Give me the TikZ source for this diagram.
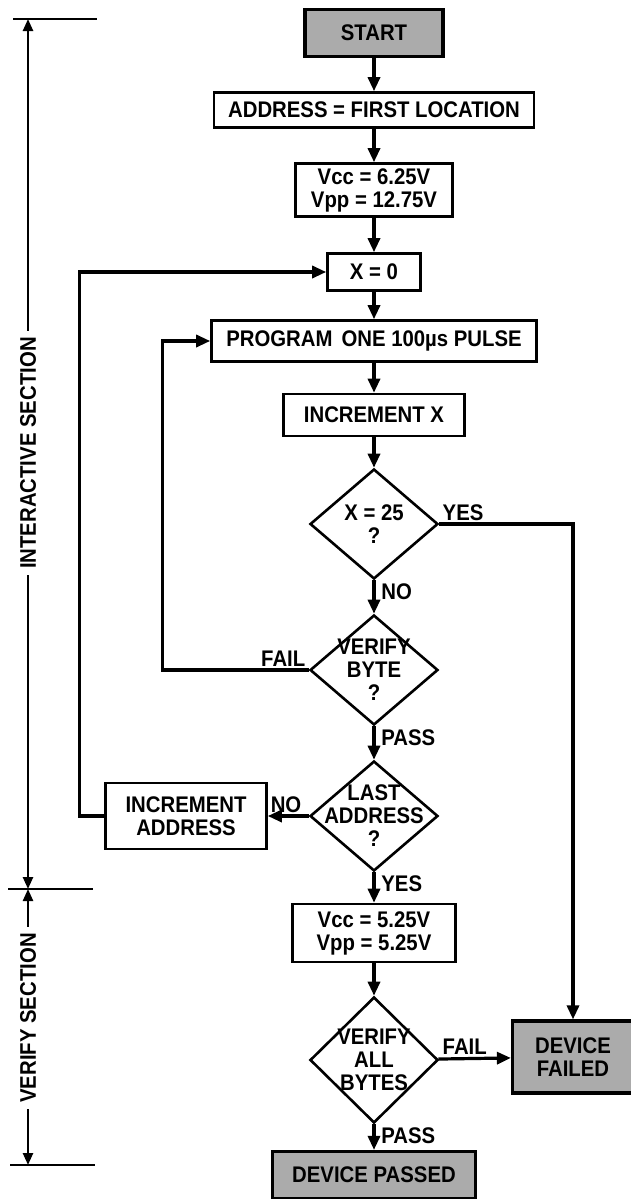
\documentclass[tikz,border=0pt]{standalone}
\usepackage{fontspec}
\setmainfont{Liberation Sans}[FakeStretch=0.9]
\usepackage{tikz}
\usetikzlibrary{
  shapes.geometric,
  positioning,
  arrows.meta
}
\definecolor{stipple}{HTML}{ABABAB}

\begin{document}
\begin{tikzpicture}[
    x=0.5pt, y=-0.5pt,
    font=\fontsize{11.3}{11.5}\selectfont\bfseries,
    box/.style={draw, line width=1.3pt, inner sep=0pt, align=center},
    term/.style={box, line width=1.6pt, fill=stipple},
    decision/.style={diamond, draw, line width=1.3pt, inner sep=0pt,
                     minimum width=64pt, minimum height=55pt},
    qtext/.style={align=center, inner sep=0pt},
    flow/.style={line width=1.6pt, -{Triangle[length=7pt,width=6pt]}},
    tag/.style={inner sep=1.5pt},
    span/.style={line width=1.2pt,
                 {Triangle[length=6pt,width=5pt]}-{Triangle[length=6pt,width=5pt]}},
  ]
  \useasboundingbox (0,0) rectangle (631,1199);

  \node[term, minimum width=69pt, minimum height=23.5pt]  (start)  at (374,33)   {START};
  \node[box, minimum width=160pt, minimum height=17.5pt]  (addr)   at (374,110)  {ADDRESS = FIRST LOCATION};
  \node[box, minimum width=78.5pt, minimum height=26.5pt] (vhigh)  at (374,190)  {Vcc = 6.25V\\Vpp = 12.75V};
  \node[box, minimum width=46.5pt, minimum height=18.5pt] (xzero)  at (374,272)  {X = 0};
  \node[box, minimum width=162.5pt, minimum height=20.5pt] (prog)  at (374,341)  {PROGRAM\hspace{0.4em}ONE 100µs PULSE};
  \node[box, minimum width=90.5pt, minimum height=21pt]   (incx)   at (374,415)  {INCREMENT X};
  \node[decision, label={[qtext]center:{X = 25\\?}}]       (xmax)   at (374,524)  {};
  \node[decision, label={[qtext]center:{VERIFY\\BYTE\\?}}] (vbyte)  at (374,670)  {};
  \node[decision, label={[qtext]center:{LAST\\ADDRESS\\?}}] (last)  at (374,816)  {};
  \node[box, minimum width=80.5pt, minimum height=33pt]   (incaddr) at (186,816) {INCREMENT\\ADDRESS};
  \node[box, minimum width=81.5pt, minimum height=29pt]   (vlow)   at (374,933)  {Vcc = 5.25V\\Vpp = 5.25V};
  \node[decision, minimum height=63pt,
        label={[qtext]center:{VERIFY\\ALL\\BYTES}}]        (vall)   at (374,1060) {};
  \node[term, minimum width=60.5pt, minimum height=36pt]  (failed) at (573,1057) {DEVICE\\FAILED};
  \node[term, minimum width=101.5pt, minimum height=23.5pt] (passed) at (374,1175) {DEVICE PASSED};

  \draw[flow] (start) -- (addr);
  \draw[flow] (addr) -- (vhigh);
  \draw[flow] (vhigh) -- (xzero);
  \draw[flow] (xzero) -- (prog);
  \draw[flow] (prog) -- (incx);
  \draw[flow] (incx) -- (xmax);
  \draw[flow] (xmax) -- (vbyte);
  \draw[flow] (vbyte) -- (last);
  \draw[flow] (last) -- (vlow);
  \draw[flow] (vlow) -- (vall);
  \draw[flow] (vall) -- (passed);
  \draw[flow] (vall) -- (failed);
  \draw[flow] (last) -- (incaddr);
  \draw[flow] (xmax.east) -| (failed.north);
  \draw[flow] (vbyte.west) -- ++(-146,0) |- (prog.west);
  \draw[flow] (incaddr.west) -- ++(-25,0) |- (xzero.west);

  \node[tag, anchor=south west] at (xmax.east) {YES};
  \node[tag, anchor=north west] at ([xshift=2pt]xmax.south) {NO};
  \node[tag, anchor=south east] at (vbyte.west) {FAIL};
  \node[tag, anchor=north west] at ([xshift=2pt]vbyte.south) {PASS};
  \node[tag, anchor=south east] at ([xshift=-2pt]last.west) {NO};
  \node[tag, anchor=north west] at ([xshift=2pt]last.south) {YES};
  \node[tag, anchor=south west] at ([yshift=1pt]vall.east) {FAIL};
  \node[tag, anchor=north west] at ([xshift=2pt]vall.south) {PASS};

  \coordinate (itop) at (28,19);
  \coordinate (isep) at (28,889);
  \coordinate (ibot) at (28,1165);
  \draw[line width=1.4pt] (13,19) -- (97,19);
  \draw[line width=1.4pt] (8,889) -- (93,889);
  \draw[line width=1.4pt] (10,1165) -- (95,1165);
  \draw[span] (itop) -- (isep);
  \draw[span] (isep) -- (ibot);
  \node[rotate=90, fill=white, inner sep=3pt] (inter) at (28,453)  {INTERACTIVE SECTION};
  \node[rotate=90, fill=white, inner sep=3pt] (verif) at (28,1018) {VERIFY SECTION};
\end{tikzpicture}
\end{document}
